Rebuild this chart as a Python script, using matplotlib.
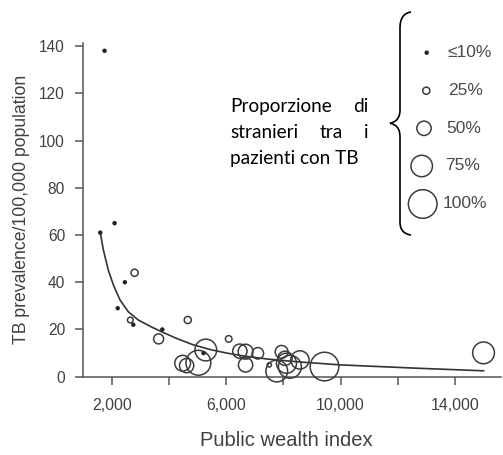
import matplotlib
matplotlib.use("Agg")
import matplotlib.pyplot as plt
from matplotlib.path import Path
from matplotlib.patches import PathPatch

# ---------------- data ----------------
wealth = [1750, 1600, 2100, 2800, 2460, 2210, 2650, 2755, 3770, 3640,
          4660, 6090, 4480, 4620, 5030, 5290, 5210, 6480, 6680, 6680,
          7110, 7940, 7770, 7510, 8110, 8230, 8060, 8580, 9440, 15000]
prevalence = [138, 61, 65, 44, 40, 29, 24, 22, 20, 16,
              24, 16, 5.7, 4.7, 5.9, 11.3, 10.0, 10.8, 10.6, 5.0,
              9.9, 10.5, 2.4, 5.0, 5.7, 4.2, 7.8, 7.1, 4.3, 10.1]
foreign_share = [0.10, 0.10, 0.10, 0.25, 0.10, 0.10, 0.20, 0.10, 0.10, 0.35,
                 0.25, 0.23, 0.55, 0.50, 0.87, 0.76, 0.10, 0.50, 0.52, 0.50,
                 0.40, 0.45, 0.76, 0.15, 0.70, 0.80, 0.50, 0.64, 1.00, 0.76]

fit_x = [1600, 1710, 1880, 2060, 2290, 2580, 2930, 3400, 3750, 4270,
         4850, 5440, 6020, 6600, 7420, 8500, 10000, 12660, 15000]
fit_y = [61, 53.6, 45.2, 38.8, 32.5, 27.5, 24.0, 21.0, 19.0, 16.2,
         13.5, 11.5, 10.0, 8.8, 7.5, 6.3, 5.0, 3.6, 2.5]

x_ticks = [2000, 4000, 6000, 8000, 10000, 12000, 14000]
x_tick_labels = ["2,000", "", "6,000", "", "10,000", "", "14,000"]
y_ticks = [0, 20, 40, 60, 80, 100, 120, 140]

legend_shares = [0.10, 0.25, 0.50, 0.75, 1.00]
legend_labels = ["≤10%", "25%", "50%", "75%", "100%"]

note_lines = [["Proporzione", "di"], ["stranieri", "tra", "i"], ["pazienti con TB"]]

# ---------------- figure ----------------
W, H = 503, 455
fig = plt.figure(figsize=(W / 100, H / 100), dpi=100)
ax_l, ax_r, ax_t, ax_b = 83.1, 500.7, 42.5, 376.7
ax = fig.add_axes([ax_l / W, 1 - ax_b / H, (ax_r - ax_l) / W, (ax_b - ax_t) / H])

EDGE = "#3c3c3c"
AXC = "#555555"
TXT = "#404040"
tick_font = "Liberation Sans"


def diam_pt(p):
    # marker diameter in points
    return 28.6 * p * 0.72


def draw_markers(axis, xs, ys, shares, **kw):
    small_x = [x for x, p in zip(xs, shares) if p <= 0.1]
    small_y = [y for y, p in zip(ys, shares) if p <= 0.1]
    big = [(x, y, p) for x, y, p in zip(xs, ys, shares) if p > 0.1]
    axis.scatter(small_x, small_y, s=3.2 ** 2, c="#222222", edgecolors="none",
                 zorder=4, clip_on=False, **kw)
    axis.scatter([b[0] for b in big], [b[1] for b in big],
                 s=[diam_pt(b[2]) ** 2 for b in big], facecolors="none",
                 edgecolors=EDGE, linewidths=1.1, zorder=3, clip_on=False, **kw)


draw_markers(ax, wealth, prevalence, foreign_share)
ax.plot(fit_x, fit_y, color="#333333", lw=1.2, zorder=2)

ax.set_xlim(1000, 15600)
ax.set_ylim(0, 141.5)
ax.set_xticks(x_ticks)
ax.set_xticklabels(x_tick_labels, fontsize=11.4, family=tick_font, color=TXT)
ax.set_yticks(y_ticks)
ax.set_yticklabels([str(v) for v in y_ticks], fontsize=11.2, family=tick_font, color=TXT)
ax.tick_params(axis="x", length=6, width=1.1, color=AXC, pad=9)
ax.tick_params(axis="y", length=6, width=1.1, color=AXC, pad=7)
for s in ["top", "right"]:
    ax.spines[s].set_visible(False)
for s in ["left", "bottom"]:
    ax.spines[s].set_color(AXC)
    ax.spines[s].set_linewidth(1.1)
ax.spines["left"].set_bounds(0, 141.5)
ax.patch.set_alpha(0)

# ---------------- overlay in pixel coordinates ----------------
ov = fig.add_axes([0, 0, 1, 1], zorder=5)
ov.set_xlim(0, W)
ov.set_ylim(H, 0)
ov.axis("off")
ov.patch.set_alpha(0)

fig.text(286 / W, 1 - 440 / H, "Public wealth index", ha="center", va="center",
         fontsize=14.5, family=tick_font, color=TXT)
fig.text(21.7 / W, 1 - 209.6 / H, "TB prevalence/100,000 population", ha="center",
         va="center", rotation=90, fontsize=12.7, family=tick_font, color=TXT)

# legend markers
leg_x = [426.7, 426.3, 424.0, 421.7, 422.7]
leg_y = [52.7, 90.7, 128.3, 166.0, 204.0]
leg_tx = [447.5, 448.5, 446.5, 445.5, 442.5]
draw_markers(ov, leg_x, leg_y, legend_shares)
for tx, ty, lab in zip(leg_tx, leg_y, legend_labels):
    ov.text(tx, ty, lab, ha="left", va="center", fontsize=12.5,
            family=tick_font, color="#4a4a4a")

# brace
verts = [(411, 12), (404, 13), (400, 18), (400, 28),
         (400, 110),
         (400, 118), (396, 122), (390, 123.3),
         (396, 124.5), (400, 128), (400, 137),
         (400, 222),
         (400, 230), (404, 234), (411, 235)]
codes = [Path.MOVETO, Path.CURVE4, Path.CURVE4, Path.CURVE4,
         Path.LINETO,
         Path.CURVE4, Path.CURVE4, Path.CURVE4,
         Path.CURVE4, Path.CURVE4, Path.CURVE4,
         Path.LINETO,
         Path.CURVE4, Path.CURVE4, Path.CURVE4]
ov.add_patch(PathPatch(Path(verts, codes), facecolor="none", edgecolor="black", lw=1.2))

# justified note text
note_font = dict(family="Lato", fontsize=13.7, color="black")
left, right = 230, 368
baselines = [111.7, 137.7, 164.0]
fig.canvas.draw()
renderer = fig.canvas.get_renderer()


def width_of(s):
    t = ov.text(0, 0, s, **note_font)
    w = t.get_window_extent(renderer).width
    t.remove()
    return w


for words, by in zip(note_lines, baselines):
    if len(words) == 1:
        ov.text(left, by, words[0], ha="left", va="baseline", **note_font)
        continue
    ws = [width_of(w) for w in words]
    gap = (right - left - sum(ws)) / (len(words) - 1)
    x = left
    for w, wd in zip(words, ws):
        ov.text(x, by, w, ha="left", va="baseline", **note_font)
        x += wd + gap

fig.savefig("out.png", dpi=100)
